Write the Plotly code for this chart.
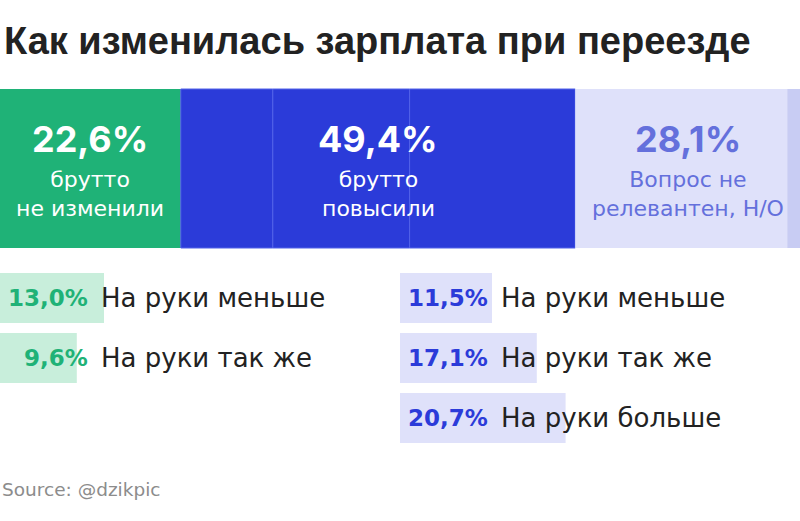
import plotly.graph_objects as go

# Data
title = "Как изменилась зарплата при переезде"
source = "Source: @dzikpic"

# top bar: segments left to right (share of respondents, %)
top_groups = ["не изменили", "повысили", "Н/О"]
top_totals = [22.6, 49.4, 28.1]
top_labels = ["брутто<br>не изменили", "брутто<br>повысили", "Вопрос не<br>релевантен, Н/О"]
top_parts = [13.0, 9.6, 11.5, 17.1, 20.7, 26.5, 1.6]

# breakdown by net salary
net_labels = ["На руки меньше", "На руки так же", "На руки больше"]
same_gross = [13.0, 9.6]
raised_gross = [11.5, 17.1, 20.7]

# Styles
GREEN = "#1fb277"
BLUE = "#2b3bd9"
LAVENDER = "#dfe1fa"
LAV_DARK = "#c8ccf3"
LAV_TEXT = "#6470dc"
GREEN_LIGHT = "#c8eedb"
DARK = "#222222"
FONT = "DejaVu Sans"
BIG_FONT = "Inter"

part_colors = [GREEN, GREEN, BLUE, BLUE, BLUE, LAVENDER, LAV_DARK]
part_lines = ["rgba(0,0,0,0)"] * 2 + ["#5262e8"] * 3 + ["rgba(0,0,0,0)"] * 2

TOP_Y, TOP_H = 168.5, 159
ROW_Y = [298, 358, 418]
ROW_H = 50
RIGHT_BASE = 50

fig = go.Figure()

# main stacked bar
base = 0
for v, c, lc in zip(top_parts, part_colors, part_lines):
    fig.add_trace(go.Bar(
        x=[v], y=[TOP_Y], base=[base], width=[TOP_H], orientation="h",
        marker=dict(color=c, line=dict(color=lc, width=1)),
        hoverinfo="skip", showlegend=False
    ))
    base += v

# labels in main bar
start = 0
text_colors = ["white", "white", LAV_TEXT]
for i, (tot, lab) in enumerate(zip(top_totals, top_labels)):
    end = min(start + tot, 100)
    cx = (start + end) / 2
    fig.add_annotation(x=cx, y=139, text="<b>%s%%</b>" % str(tot).replace(".", ","),
                       showarrow=False, font=dict(size=36, color=text_colors[i], family=BIG_FONT))
    fig.add_annotation(x=cx, y=194, text=lab, showarrow=False,
                       font=dict(size=22, color=text_colors[i], family=FONT))
    start += tot

# small breakdown bars
for vals, b, bar_c, txt_c in [(same_gross, 0, GREEN_LIGHT, GREEN),
                               (raised_gross, RIGHT_BASE, LAVENDER, BLUE)]:
    ys = ROW_Y[:len(vals)]
    fig.add_trace(go.Bar(
        x=vals, y=ys, base=[b] * len(vals), width=[ROW_H] * len(vals),
        orientation="h", marker=dict(color=bar_c, line=dict(width=0)),
        hoverinfo="skip", showlegend=False
    ))
    for v, y, lab in zip(vals, ys, net_labels):
        fig.add_annotation(x=b + 11.3, y=y, xanchor="right",
                           text="<b>%s%%</b>" % ("%.1f" % v).replace(".", ","),
                           showarrow=False, font=dict(size=23, color=txt_c, family=FONT))
        fig.add_annotation(x=b + 12.4, y=y, xanchor="left", text=lab, showarrow=False,
                           font=dict(size=26, color=DARK, family=FONT))

fig.add_annotation(x=0.003, y=1 - 41 / 521, xref="paper", yref="paper",
                   xanchor="left", yanchor="middle", text="<b>%s</b>" % title,
                   showarrow=False, font=dict(size=38, color=DARK, family="Liberation Sans"))
fig.add_annotation(x=0, y=1 - 489 / 521, xref="paper", yref="paper",
                   xanchor="left", yanchor="middle", text=source,
                   showarrow=False, font=dict(size=18.5, color="#8c8c8c", family=FONT))

fig.update_layout(
    width=800, height=521,
    margin=dict(l=0, r=0, t=0, b=0),
    barmode="overlay",
    paper_bgcolor="white", plot_bgcolor="white",
    xaxis=dict(range=[0, 100], visible=False, fixedrange=True),
    yaxis=dict(range=[521, 0], visible=False, fixedrange=True),
)

fig.write_html("out.html", config={"displayModeBar": False},
               post_script="document.body.style.margin='0';document.body.style.overflow='hidden';")
